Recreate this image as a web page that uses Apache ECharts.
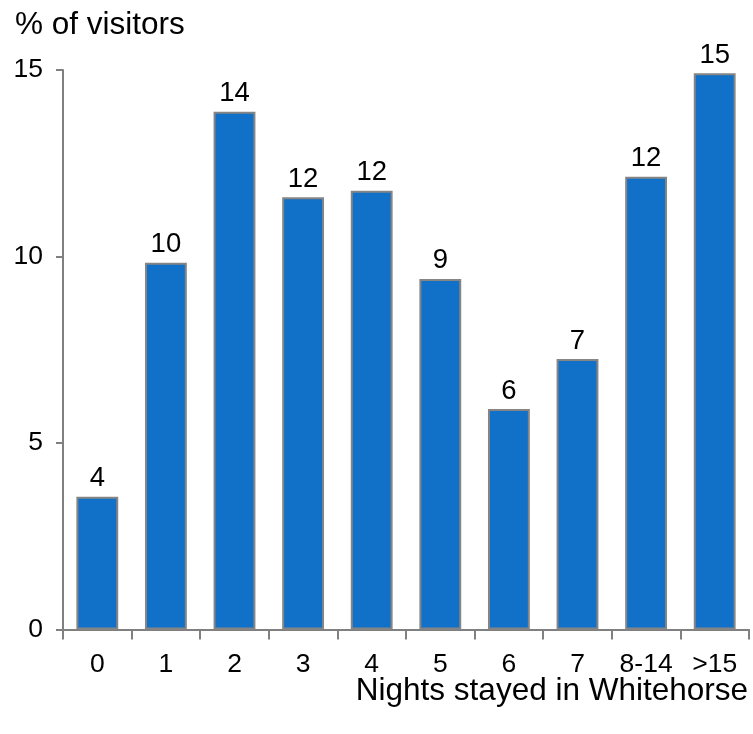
<!DOCTYPE html>
<html>
<head>
<meta charset="utf-8">
<title>Nights stayed in Whitehorse</title>
<script src="https://cdn.jsdelivr.net/npm/echarts@6/dist/echarts.min.js"></script>
<style>
  html, body { margin: 0; padding: 0; background: #ffffff; }
  #chart { width: 753px; height: 734px; }
</style>
</head>
<body>
<div id="chart"></div>
<script>
// Length of stay categories (nights)
const categories = ['0', '1', '2', '3', '4', '5', '6', '7', '8-14', '>15'];
// Share of visitors per category, in percent
const visitorShare = [3.56, 9.83, 13.88, 11.59, 11.76, 9.40, 5.91, 7.25, 12.14, 14.91];
// Value axis ticks
const yTicks = [0, 5, 10, 15];

const FONT = '"Liberation Sans", Arial, sans-serif';
const chart = echarts.init(document.getElementById('chart'), null, { renderer: 'canvas' });

chart.setOption({
  animation: false,
  backgroundColor: '#ffffff',
  textStyle: { fontFamily: FONT, color: '#000000' },
  title: [
    {
      text: '% of visitors',
      left: 10,
      top: 4,
      textStyle: { fontFamily: FONT, fontSize: 31.5, fontWeight: 'normal', color: '#000000' }
    },
    {
      text: 'Nights stayed in Whitehorse',
      right: 0,
      top: 670,
      textStyle: { fontFamily: FONT, fontSize: 31.5, fontWeight: 'normal', color: '#000000' }
    }
  ],
  grid: { left: 63, right: 4, top: 70, bottom: 104.5, containLabel: false },
  xAxis: {
    type: 'category',
    data: categories,
    boundaryGap: true,
    axisLine: { lineStyle: { color: '#808080', width: 2 } },
    axisTick: { show: true, interval: 0, length: 10, lineStyle: { color: '#808080', width: 2 } },
    axisLabel: {
      interval: 0,
      hideOverlap: false,
      fontFamily: FONT,
      fontSize: 26.5,
      color: '#000000',
      margin: 22
    },
    splitLine: { show: false }
  },
  yAxis: {
    type: 'value',
    min: yTicks[0],
    max: yTicks[yTicks.length - 1],
    interval: yTicks[1] - yTicks[0],
    axisLine: { show: true, lineStyle: { color: '#808080', width: 2 } },
    axisTick: { show: true, length: 7, lineStyle: { color: '#808080', width: 2 } },
    axisLabel: { fontFamily: FONT, fontSize: 26.5, color: '#000000', margin: 20 },
    splitLine: { show: false }
  },
  series: [{
    type: 'bar',
    data: visitorShare,
    barCategoryGap: '39%',
    itemStyle: { color: '#1170C8', borderColor: '#858585', borderWidth: 2 },
    label: {
      show: true,
      position: 'top',
      distance: 4,
      fontFamily: FONT,
      fontSize: 27.5,
      color: '#000000',
      formatter: p => String(Math.round(p.value))
    }
  }]
});
</script>
</body>
</html>
